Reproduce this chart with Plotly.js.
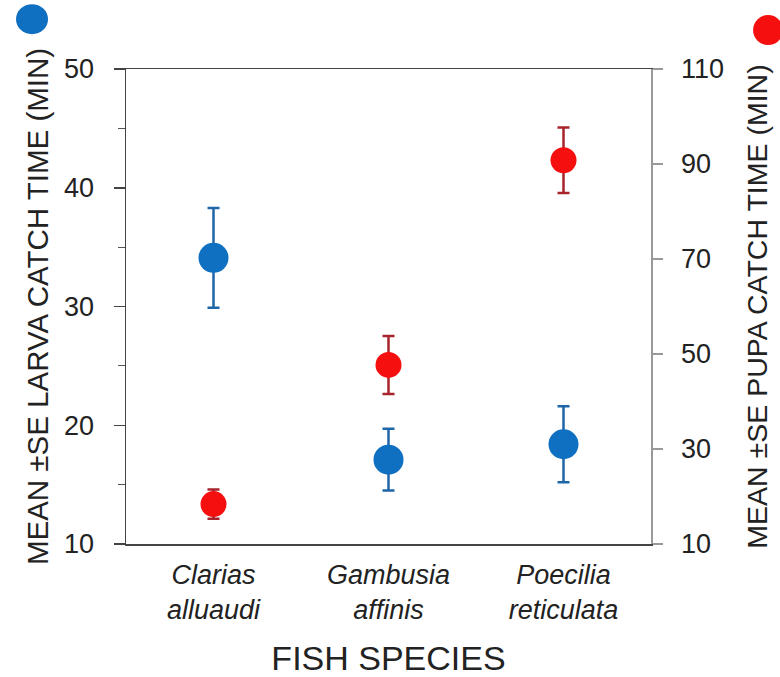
<!DOCTYPE html>
<html>
<head>
<meta charset="utf-8">
<script src="https://cdn.plot.ly/plotly-3.0.1.min.js"></script>
<style>html,body{margin:0;padding:0;background:#fff;}#chart{width:780px;height:677px;}</style>
</head>
<body>
<div id="chart"></div>
<script>
var species = ['Clarias alluaudi', 'Gambusia affinis', 'Poecilia reticulata'];
var larvaMean = [34.1, 17.1, 18.4];
var larvaSE = [4.2, 2.6, 3.2];
var pupaMean = [18.4, 47.7, 90.8];
var pupaSE = [3.1, 6.1, 6.9];
var leftTicks = [10, 20, 30, 40, 50];
var rightTicks = [10, 30, 50, 70, 90, 110];

var xpos = species.map(function(s, i){ return i; });
var xlabels = species.map(function(s){
  var p = s.split(' ');
  return '<i>' + p[0] + '</i><br><i>' + p[1] + '</i>';
});

var larva = {
  x: xpos, y: larvaMean, type: 'scatter', mode: 'markers', name: 'Larva',
  marker: {color: '#0f6fc0', size: 30},
  error_y: {type: 'data', array: larvaSE, visible: true, thickness: 2.5, width: 6, color: '#1f66a8'},
  xaxis: 'x', yaxis: 'y', showlegend: false
};
var pupa = {
  x: xpos, y: pupaMean, type: 'scatter', mode: 'markers', name: 'Pupa',
  marker: {color: '#f50f0f', size: 26},
  error_y: {type: 'data', array: pupaSE, visible: true, thickness: 2.5, width: 6, color: '#a8242c'},
  xaxis: 'x', yaxis: 'y2', showlegend: false
};

var fam = 'Liberation Sans, Arial, sans-serif';
var tickFont = {family: fam, size: 27, color: '#222'};

var layout = {
  width: 780, height: 677,
  margin: {l: 126, r: 129, t: 69, b: 133},
  paper_bgcolor: '#fff', plot_bgcolor: '#fff',
  xaxis: {
    range: [-0.5, 2.5], tickvals: xpos, ticktext: xlabels,
    showgrid: false, zeroline: false, showline: true, mirror: true,
    linecolor: '#444', linewidth: 1.5, ticks: '', ticklabelstandoff: 6,
    tickfont: {family: fam, size: 27, color: '#222'},
    title: {text: 'FISH SPECIES', font: {family: fam, size: 34, color: '#222'}, standoff: 31}
  },
  yaxis: {
    range: [10, 50], tickvals: leftTicks, showgrid: false, zeroline: false,
    showline: true, linecolor: '#444', linewidth: 1.5,
    ticks: 'outside', ticklen: 11, tickwidth: 1.5, tickcolor: '#444',
    minor: {dtick: 5, ticks: 'outside', ticklen: 7, tickcolor: '#555', tickwidth: 1},
    tickfont: tickFont, ticklabelstandoff: 14,
    title: {text: 'MEAN ±SE LARVA CATCH TIME (MIN)', font: {family: fam, size: 29.5, color: '#222'}, standoff: 6}
  },
  yaxis2: {
    range: [10, 110], tickvals: rightTicks, overlaying: 'y', side: 'right',
    showgrid: false, zeroline: false, showline: true, linecolor: '#999', linewidth: 1.5,
    ticks: 'outside', ticklen: 10, tickwidth: 1.2, tickcolor: '#999',
    tickfont: tickFont, ticklabelstandoff: 13,
    title: {text: 'MEAN ±SE PUPA CATCH TIME (MIN)', font: {family: fam, size: 28.5, color: '#222'}, standoff: 24}
  },
  shapes: [
    {type: 'circle', xref: 'paper', yref: 'paper', xsizemode: 'pixel', ysizemode: 'pixel',
     xanchor: -0.179, yanchor: 1.105, x0: -16, x1: 16, y0: -15, y1: 15,
     fillcolor: '#0f6fc0', line: {width: 0}},
    {type: 'circle', xref: 'paper', yref: 'paper', xsizemode: 'pixel', ysizemode: 'pixel',
     xanchor: 1.223, yanchor: 1.082, x0: -15, x1: 15, y0: -15, y1: 15,
     fillcolor: '#f50f0f', line: {width: 0}}
  ]
};

Plotly.newPlot('chart', [larva, pupa], layout, {displayModeBar: false, staticPlot: true});
</script>
</body>
</html>
